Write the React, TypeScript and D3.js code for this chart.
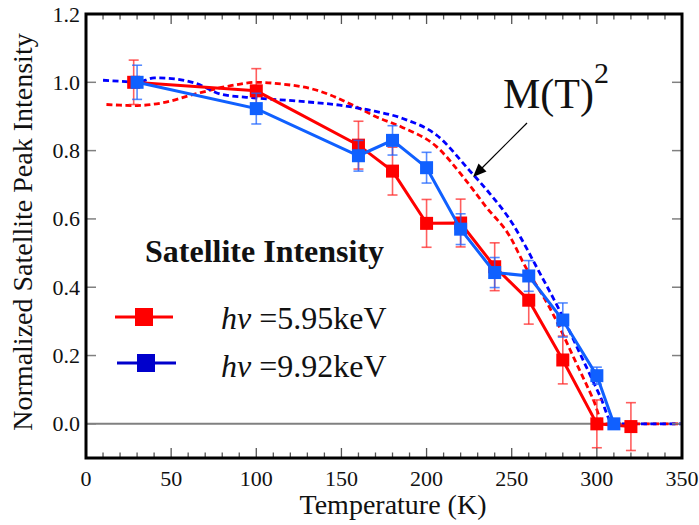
import React from "react";
import * as d3 from "d3";

// ---- data ----
const redT = [28, 100, 160, 180, 200, 220, 240, 260, 280, 300, 320];
const redV = [1.0, 0.975, 0.816, 0.74, 0.587, 0.588, 0.46, 0.362, 0.187, 0.0, -0.008];
const redErr = [0.065, 0.065, 0.07, 0.07, 0.07, 0.07, 0.07, 0.07, 0.07, 0.07, 0.07];

const blueT = [30, 100, 160, 180, 200, 220, 240, 260, 280, 300, 310];
const blueV = [1.0, 0.923, 0.785, 0.83, 0.75, 0.57, 0.443, 0.433, 0.304, 0.141, 0.0];
const blueErr = [0.05, 0.045, 0.045, 0.043, 0.045, 0.045, 0.044, 0.045, 0.05, 0.025, 0];

const mRedT = [12, 20, 30, 45, 65, 85, 100, 115, 134, 160, 170, 185, 206, 221.5, 235, 249, 257, 274, 288, 298, 304, 350];
const mRedV = [0.935, 0.933, 0.932, 0.94, 0.967, 0.99, 1.0, 0.995, 0.979, 0.925, 0.9, 0.87, 0.811, 0.723, 0.635, 0.548, 0.47, 0.324, 0.177, 0.07, 0.0, 0.0];

const mBlueT = [10, 20, 30, 40, 52, 65, 80, 100, 124, 149, 167, 186, 206, 225, 237, 251, 255, 264.5, 278, 290, 302, 309.5, 350];
const mBlueV = [1.006, 1.003, 1.0, 1.013, 1.01, 0.996, 0.964, 0.954, 0.945, 0.933, 0.918, 0.894, 0.845, 0.743, 0.675, 0.582, 0.548, 0.46, 0.333, 0.207, 0.08, 0.0, 0.0];

const xTicks = [0, 50, 100, 150, 200, 250, 300, 350];
const yTicks = [0.0, 0.2, 0.4, 0.6, 0.8, 1.0, 1.2];
const legendLabels = ["=5.95keV", "=9.92keV"];

const FONT = "'Liberation Serif', 'Times New Roman', serif";
const RED = "#ff0000";
const BLUE = "#1060ff";

export default function App() {
  const left = 86, right = 682, top = 14, bottom = 458;
  const x = d3.scaleLinear().domain([0, 350]).range([left, right]);
  const y = d3.scaleLinear().domain([-0.1, 1.2]).range([bottom, top]);

  const solid = d3.line<[number, number]>().x(d => x(d[0])).y(d => y(d[1]));
  const smooth = d3.line<[number, number]>().x(d => x(d[0])).y(d => y(d[1])).curve(d3.curveMonotoneX);

  const zip = (a: number[], b: number[]) => a.map((t, i) => [t, b[i]] as [number, number]);
  const minor = d3.range(0, 351, 10);

  const series = [
    { t: redT, v: redV, e: redErr, color: RED, err: "rgba(255,40,40,0.75)" },
    { t: blueT, v: blueV, e: blueErr, color: BLUE, err: "rgba(30,100,255,0.75)" },
  ];

  const ms = 13;

  return (
    <svg width={699} height={525} style={{ position: "absolute", left: 0, top: 0 }} fontFamily={FONT}>
      <rect width={699} height={525} fill="#fff" />
      {/* zero line */}
      <line x1={left} x2={right} y1={y(0)} y2={y(0)} stroke="#808080" strokeWidth={2} />

      {/* M(T)^2 dashed curves */}
      <path d={smooth(zip(mRedT, mRedV)) || ""} fill="none" stroke={RED} strokeWidth={2.8} strokeDasharray="6,3.5" />
      <path d={smooth(zip(mBlueT, mBlueV)) || ""} fill="none" stroke="#0000ff" strokeWidth={2.8} strokeDasharray="6,3.5" />

      {series.map((s, si) => (
        <g key={si}>
          <path d={solid(zip(s.t, s.v)) || ""} fill="none" stroke={s.color} strokeWidth={3} />
          {s.t.map((t, i) =>
            s.e[i] > 0 ? (
              <g key={i} stroke={s.err} strokeWidth={1.6}>
                <line x1={x(t)} x2={x(t)} y1={y(s.v[i] - s.e[i])} y2={y(s.v[i] + s.e[i])} />
                <line x1={x(t) - 5} x2={x(t) + 5} y1={y(s.v[i] - s.e[i])} y2={y(s.v[i] - s.e[i])} />
                <line x1={x(t) - 5} x2={x(t) + 5} y1={y(s.v[i] + s.e[i])} y2={y(s.v[i] + s.e[i])} />
              </g>
            ) : null
          )}
          {s.t.map((t, i) => (
            <rect key={"m" + i} x={x(t) - ms / 2} y={y(s.v[i]) - ms / 2} width={ms} height={ms} fill={s.color} />
          ))}
        </g>
      ))}

      {/* ticks */}
      {minor.map(t => {
        const major = t % 50 === 0;
        const len = major ? 10 : 5.5;
        return (
          <g key={"xt" + t} stroke="#555" strokeWidth={1.3}>
            <line x1={x(t)} x2={x(t)} y1={bottom} y2={bottom - len} />
            <line x1={x(t)} x2={x(t)} y1={top} y2={top + len} />
          </g>
        );
      })}
      {yTicks.map(v => (
        <g key={"yt" + v} stroke="#808080" strokeWidth={1.5}>
          <line x1={left} x2={left + 10} y1={y(v)} y2={y(v)} />
          <line x1={right} x2={right - 10} y1={y(v)} y2={y(v)} />
        </g>
      ))}

      {/* frame */}
      <rect x={left} y={top} width={right - left} height={bottom - top} fill="none" stroke="#000" strokeWidth={3} />

      {/* tick labels */}
      {xTicks.map(t => (
        <text key={"xl" + t} x={x(t)} y={486} fontSize={22} textAnchor="middle" fill="#111">{t}</text>
      ))}
      {yTicks.map(v => (
        <text key={"yl" + v} x={80} y={y(v) + 7.5} fontSize={22} textAnchor="end" fill="#111">{v.toFixed(1)}</text>
      ))}

      {/* axis titles */}
      <text x={393} y={514} fontSize={28} textAnchor="middle" fill="#111">Temperature (K)</text>
      <text transform="translate(32,232) rotate(-90)" fontSize={28} textAnchor="middle" fill="#111">Normalized Satellite Peak Intensity</text>

      {/* annotation */}
      <text x={503} y={108} fontSize={42} fill="#111">M(T)<tspan fontSize={30} dy={-25}>2</tspan></text>
      <line x1={527} y1={123} x2={481} y2={169} stroke="#000" strokeWidth={1.2} />
      <path d="M473,177 L478.5,163.5 L486.5,171.5 Z" fill="#000" />

      {/* legend */}
      <text x={145} y={262} fontSize={32} fontWeight="bold" fill="#111">Satellite Intensity</text>
      <line x1={115} x2={173} y1={317} y2={317} stroke={RED} strokeWidth={3} />
      <rect x={144 - 9} y={317 - 9} width={18} height={18} fill={RED} />
      <line x1={117} x2={176} y1={363} y2={363} stroke="#0000cc" strokeWidth={3} />
      <rect x={146 - 9} y={363 - 9} width={18} height={18} fill="#0000cc" />
      {legendLabels.map((l, i) => (
        <text key={l} x={221} y={329 + i * 47.5} fontSize={32} fill="#111">
          <tspan fontStyle="italic">hv</tspan> {l}
        </text>
      ))}
    </svg>
  );
}
